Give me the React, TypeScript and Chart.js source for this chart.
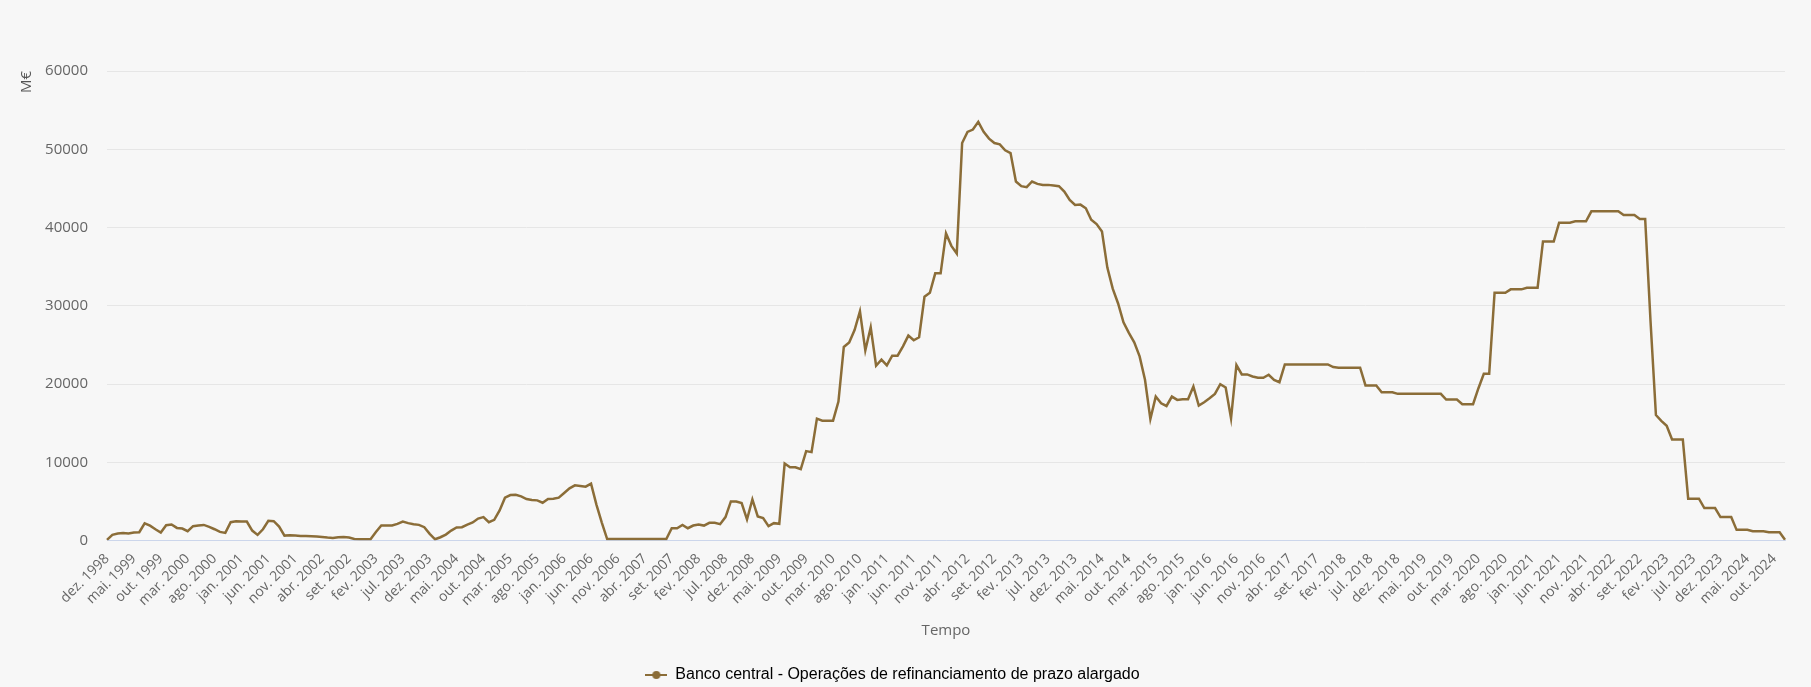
import { useEffect, useRef } from 'react';
import { Chart, registerables } from 'chart.js';

Chart.register(...registerables);

// Month abbreviations used for category labels (pt-PT)
const MONTHS = ['jan.', 'fev.', 'mar.', 'abr.', 'mai.', 'jun.', 'jul.', 'ago.', 'set.', 'out.', 'nov.', 'dez.'];
const FIRST_YEAR = 1998;
const FIRST_MONTH = 11; // dez.
const LABEL_STEP = 5;

const SERIES_NAME = 'Banco central - Operações de refinanciamento de prazo alargado';

// M€, one value per month from dez. 1998 to dez. 2024
const VALUES = [
  100,
  730, 900, 980, 900, 1030, 1070, 2200, 1900, 1450, 1030, 1970, 2050,
  1620, 1540, 1200, 1840, 1930, 2000, 1750, 1450, 1110, 980, 2350, 2480,
  2440, 2440, 1280, 730, 1450, 2520, 2480, 1800, 640, 680, 640, 600,
  600, 560, 510, 470, 390, 340, 430, 470, 385, 210, 170, 170,
  170, 1100, 1930, 1930, 1930, 2140, 2440, 2230, 2100, 2010, 1710, 860,
  170, 430, 770, 1280, 1670, 1710, 2050, 2310, 2820, 3000, 2350, 2650,
  3850, 5480, 5820, 5860, 5650, 5310, 5180, 5140, 4840, 5310, 5350, 5480,
  6080, 6680, 7060, 6980, 6890, 7280, 4600, 2300, 200, 200, 200, 200,
  200, 200, 200, 200, 200, 200, 200, 200, 1580, 1580, 2000, 1580,
  1920, 2050, 1920, 2270, 2270, 2100, 3000, 5000, 5000, 4800, 2700, 5260,
  3080, 2870, 1840, 2230, 2140, 9840, 9370, 9370, 9120, 11430, 11300, 15580,
  15320, 15320, 15320, 17760, 24740, 25300, 26900, 29300, 24300, 27260, 22340, 23110,
  22380, 23630, 23630, 24820, 26190, 25590, 25980, 31160, 31670, 34150, 34150, 39250,
  37660, 36680, 50800, 52220, 52520, 53500, 52220, 51360, 50800, 50630, 49860, 49520,
  45880, 45280, 45150, 45880, 45580, 45450, 45450, 45370, 45280, 44600, 43530, 42890,
  42930, 42460, 41000, 40450, 39500, 34880, 32190, 30300, 27900, 26540, 25340, 23540,
  20540, 15540, 18400, 17550, 17200, 18400, 17980, 18060, 18060, 19690, 17250, 17680,
  18190, 18750, 19990, 19560, 15620, 22430, 21230, 21230, 20970, 20800, 20800, 21190,
  20540, 20240, 22500, 22500, 22500, 22500, 22500, 22500, 22500, 22500, 22500, 22170,
  22100, 22100, 22100, 22100, 22100, 19820, 19820, 19820, 18960, 18960, 18960, 18750,
  18750, 18750, 18750, 18750, 18750, 18750, 18750, 18750, 18020, 18020, 18020, 17420,
  17420, 17420, 19470, 21310, 21310, 31670, 31670, 31670, 32100, 32100, 32100, 32310,
  32310, 32310, 38220, 38220, 38220, 40620, 40620, 40620, 40790, 40790, 40790, 42070,
  42070, 42070, 42070, 42070, 42070, 41600, 41600, 41600, 41090, 41090, 28000, 16050,
  15300, 14680, 12930, 12930, 12930, 5350, 5350, 5350, 4150, 4150, 4150, 3000,
  3000, 3000, 1370, 1370, 1370, 1200, 1200, 1200, 1070, 1070, 1070, 100,
];

const LABELS = VALUES.map((_, i) => {
  const m = FIRST_MONTH + i;
  return `${MONTHS[m % 12]} ${FIRST_YEAR + Math.floor(m / 12)}`;
});

const LINE_COLOR = '#8b6d38';
const TEXT_COLOR = '#666666';

function makeLegendMarker() {
  const c = document.createElement('canvas');
  c.width = 22;
  c.height = 10;
  const ctx = c.getContext('2d')!;
  ctx.strokeStyle = LINE_COLOR;
  ctx.lineWidth = 2;
  ctx.beginPath();
  ctx.moveTo(0, 5);
  ctx.lineTo(22, 5);
  ctx.stroke();
  ctx.fillStyle = LINE_COLOR;
  ctx.beginPath();
  ctx.arc(11, 5, 4, 0, Math.PI * 2);
  ctx.fill();
  return c;
}

export default function App() {
  const canvasRef = useRef<HTMLCanvasElement>(null);
  const chartRef = useRef<Chart | null>(null);

  useEffect(() => {
    document.body.style.margin = '0';
    if (!canvasRef.current) return;
    if (chartRef.current) chartRef.current.destroy();

    const marker = makeLegendMarker();

    chartRef.current = new Chart(canvasRef.current, {
      type: 'line',
      data: {
        labels: LABELS,
        datasets: [
          {
            label: SERIES_NAME,
            data: VALUES,
            borderColor: LINE_COLOR,
            backgroundColor: LINE_COLOR,
            borderWidth: 2.5,
            pointRadius: 0,
            tension: 0,
            fill: false,
          },
        ],
      },
      options: {
        responsive: true,
        maintainAspectRatio: false,
        animation: false,
        layout: { padding: { top: 71, right: 26, left: 0, bottom: -6 } },
        plugins: {
          tooltip: { enabled: false },
          legend: {
            position: 'bottom',
            labels: {
              usePointStyle: true,
              pointStyleWidth: 22,
              color: '#333333',
              font: { family: '"Liberation Sans", Arial, sans-serif', size: 16 },
              padding: 10,
              generateLabels: () => [
                {
                  text: SERIES_NAME,
                  pointStyle: marker,
                  fillStyle: LINE_COLOR,
                  strokeStyle: LINE_COLOR,
                  lineWidth: 0,
                  hidden: false,
                  datasetIndex: 0,
                },
              ],
            },
          },
        },
        scales: {
          x: {
            type: 'category',
            grid: { display: false, drawTicks: false },
            border: { display: true, color: '#ccd6eb', width: 1 },
            ticks: {
              autoSkip: false,
              minRotation: 45,
              maxRotation: 45,
              padding: 10,
              color: TEXT_COLOR,
              font: { family: '"Open Sans", sans-serif', size: 14 },
              callback: (_v, i) => (i % LABEL_STEP === 0 ? LABELS[i] : ''),
            },
            title: {
              display: true,
              text: 'Tempo',
              color: TEXT_COLOR,
              font: { family: '"Open Sans", sans-serif', size: 15 },
              padding: { top: 3, bottom: 17 },
            },
          },
          y: {
            min: 0,
            max: 60000,
            grid: { color: '#e6e6e6', drawTicks: false },
            border: { display: false },
            ticks: {
              stepSize: 10000,
              padding: 19,
              color: TEXT_COLOR,
              font: { family: '"Open Sans", sans-serif', size: 15 },
              callback: (v) => String(v),
            },
            title: {
              display: true,
              text: 'M€',
              align: 'end',
              color: '#555555',
              font: { family: '"Open Sans", sans-serif', size: 15 },
              padding: { top: 18, bottom: 0 },
            },
            afterFit: (scale) => {
              scale.width = 107;
            },
          },
        },
      },
    });

    return () => {
      chartRef.current?.destroy();
      chartRef.current = null;
    };
  }, []);

  return (
    <div style={{ width: 1811, height: 687, background: '#f7f7f7', position: 'relative' }}>
      <canvas ref={canvasRef} />
    </div>
  );
}
